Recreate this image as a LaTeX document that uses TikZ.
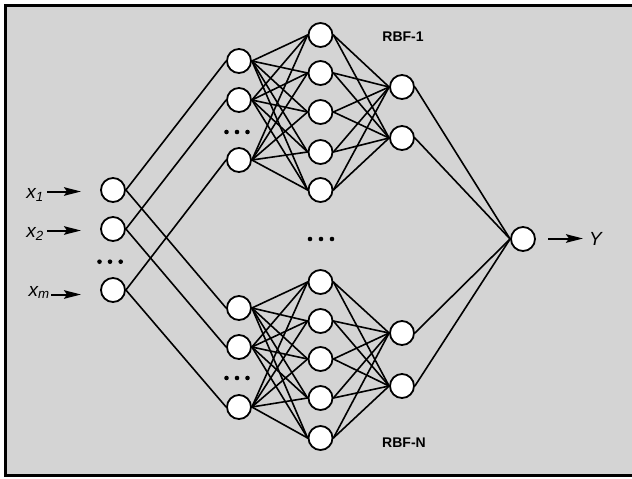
\documentclass[tikz,border=0pt]{standalone}
\usepackage{fontspec}
\setmainfont{Liberation Sans}
\usetikzlibrary{arrows.meta}
\pgfdeclarelayer{bg}
\pgfsetlayers{bg,main}
\definecolor{panel}{RGB}{212,212,212}
\tikzset{
  neuron/.style={circle,draw=black,fill=white,line width=1.8pt,minimum size=24pt,inner sep=0pt},
  link/.style={line width=1.6pt,line cap=round},
  inarrow/.style={line width=2pt,-{Stealth[length=17pt,width=8.5pt,inset=3pt]}},
  rbflabel/.style={font=\fontsize{14}{16}\selectfont\bfseries},
  varlabel/.style={font=\fontsize{19}{22}\selectfont\itshape},
  dotmark/.style={circle,fill=black,inner sep=0pt,minimum size=4.6pt},
  frameline/.style={line width=2.6pt}
}
\begin{document}
\begin{tikzpicture}[x=1pt,y=-1pt]
\useasboundingbox (0,0) rectangle (632,479);

% input layer
\node[neuron] (in1) at (113,190) {};
\node[neuron] (in2) at (113,229) {};
\node[neuron] (in3) at (113,290) {};

% group 1
\node[neuron] (a1) at (239,61) {};
\node[neuron] (a2) at (239,100) {};
\node[neuron] (a3) at (239,160) {};
\foreach \i/\y in {1/35,2/73,3/112,4/152,5/190}
  \node[neuron] (b\i) at (320.5,\y) {};
\node[neuron] (c1) at (402,87) {};
\node[neuron] (c2) at (402,138) {};

% group N
\node[neuron] (d1) at (239,308) {};
\node[neuron] (d2) at (239,347) {};
\node[neuron] (d3) at (239,407) {};
\foreach \i/\y in {1/282,2/321,3/359,4/398,5/438}
  \node[neuron] (e\i) at (320.5,\y) {};
\node[neuron] (f1) at (402,333) {};
\node[neuron] (f2) at (402,386) {};

% output
\node[neuron] (out) at (523,239) {};

\begin{pgfonlayer}{bg}
\fill[white] (-2,-2) rectangle (640,482);
\fill[panel] (5.3,5.3) rectangle (640,475.7);
\draw[frameline] (640,5.3) -- (5.3,5.3) -- (5.3,475.7) -- (640,475.7);
\foreach \i in {1,2,3} {
  \draw[link] (in\i.east) -- (a\i.west);
  \draw[link] (in\i.east) -- (d\i.west);
  \foreach \j in {1,...,5} {
    \draw[link] (a\i.east) -- (b\j.west);
    \draw[link] (d\i.east) -- (e\j.west);
  }
}
\foreach \j in {1,...,5} {
  \foreach \k in {1,2} {
    \draw[link] (b\j.east) -- (c\k.west);
    \draw[link] (e\j.east) -- (f\k.west);
  }
}
\foreach \k in {1,2} {
  \draw[link] (c\k.east) -- (out.west);
  \draw[link] (f\k.east) -- (out.west);
}
\end{pgfonlayer}

% dots
\foreach \x/\y [count=\n] in {99.5/261.7,110/261.7,120.7/261.7,
  226.5/132,237/132,247.5/132,
  226.5/378,237/378,247.5/378,
  310/239,321/239,332/239}
  \node[dotmark] (dot\n) at (\x,\y) {};

% labels
\node[rbflabel] (rbf1) at (403,37) {RBF-1};
\node[rbflabel] (rbfn) at (404,443) {RBF-N};

\node[varlabel,anchor=base east,inner sep=0pt] (x1) at (44,198) {x\textsubscript{1}};
\node[varlabel,anchor=base east,inner sep=0pt] (x2) at (44,237) {x\textsubscript{2}};
\node[varlabel,anchor=base east,inner sep=0pt] (xm) at (50,296) {x\textsubscript{m}};
\node[varlabel,anchor=base west,inner sep=0pt] (ylab) at (589,245) {Y};

\coordinate (s1) at (47,191.5);
\coordinate (t1) at (81,191.5);
\coordinate (s2) at (47,230.5);
\coordinate (t2) at (81,230.5);
\coordinate (s3) at (51,294.5);
\coordinate (t3) at (81,294.5);
\coordinate (sy) at (548,238.5);
\coordinate (ty) at (583,238.5);
\draw[inarrow] (s1) -- (t1);
\draw[inarrow] (s2) -- (t2);
\draw[inarrow] (s3) -- (t3);
\draw[inarrow] (sy) -- (ty);
\end{tikzpicture}
\end{document}
